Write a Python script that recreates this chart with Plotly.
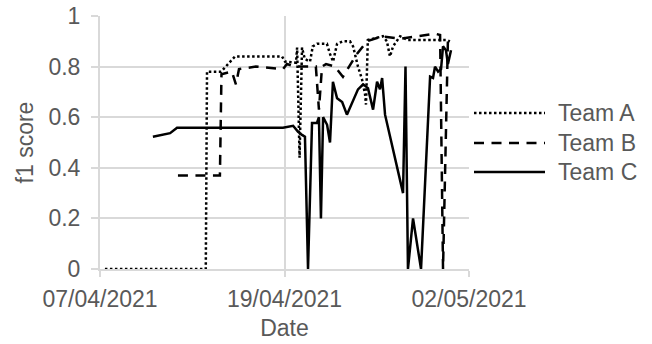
import plotly.graph_objects as go

# ---- data ----
dates_a = ["2021-04-07 08:00", "2021-04-14 04:00", "2021-04-14 06:00", "2021-04-15 05:00",
           "2021-04-16 03:30", "2021-04-19 08:00", "2021-04-19 12:45", "2021-04-20 06:45",
           "2021-04-20 08:30", "2021-04-20 12:30", "2021-04-20 16:30", "2021-04-20 21:00",
           "2021-04-21 05:30", "2021-04-21 10:00", "2021-04-21 17:00", "2021-04-22 02:30",
           "2021-04-22 09:00", "2021-04-22 14:00", "2021-04-22 19:00", "2021-04-23 01:30",
           "2021-04-23 11:00", "2021-04-23 22:30", "2021-04-24 03:30", "2021-04-24 11:30",
           "2021-04-24 18:00", "2021-04-24 23:00", "2021-04-25 00:30", "2021-04-25 03:30",
           "2021-04-26 04:00", "2021-04-26 10:30", "2021-04-26 15:30", "2021-04-26 20:30",
           "2021-04-27 08:00", "2021-04-27 21:00", "2021-04-30 12:00", "2021-04-30 17:00"]
team_a = [0.0, 0.0, 0.78, 0.78, 0.84, 0.84, 0.82, 0.815, 0.875, 0.44, 0.875, 0.83,
          0.82, 0.88, 0.89, 0.89, 0.89, 0.85, 0.82, 0.89, 0.90, 0.90, 0.88, 0.80,
          0.75, 0.69, 0.65, 0.905, 0.92, 0.90, 0.84, 0.88, 0.92, 0.905, 0.905, 0.90]

dates_b = ["2021-04-12 06:45", "2021-04-15 03:00", "2021-04-15 05:30", "2021-04-15 22:30",
           "2021-04-16 05:00", "2021-04-16 10:00", "2021-04-17 13:30", "2021-04-19 09:30",
           "2021-04-19 16:00", "2021-04-20 05:00", "2021-04-21 05:30", "2021-04-21 15:00",
           "2021-04-21 20:00", "2021-04-22 01:00", "2021-04-22 07:30", "2021-04-22 22:00",
           "2021-04-23 11:00", "2021-04-24 09:45", "2021-04-25 02:00", "2021-04-26 02:30",
           "2021-04-27 07:45", "2021-04-28 11:30", "2021-04-29 16:45", "2021-04-30 01:00",
           "2021-04-30 05:45", "2021-04-30 13:45", "2021-04-30 17:00"]
team_b = [0.37, 0.37, 0.77, 0.78, 0.73, 0.79, 0.80, 0.79, 0.81, 0.80, 0.80, 0.80,
          0.63, 0.80, 0.81, 0.80, 0.76, 0.85, 0.90, 0.92, 0.91, 0.92, 0.93, 0.925,
          0.0, 0.91, 0.90]

dates_c = ["2021-04-10 14:00", "2021-04-11 18:00", "2021-04-12 05:15", "2021-04-19 09:30",
           "2021-04-20 02:00", "2021-04-20 09:45", "2021-04-20 16:30", "2021-04-20 21:15",
           "2021-04-21 02:15", "2021-04-21 08:45", "2021-04-21 16:45", "2021-04-21 20:00",
           "2021-04-21 23:15", "2021-04-22 02:45", "2021-04-22 09:15", "2021-04-22 14:00",
           "2021-04-22 18:45", "2021-04-23 01:30", "2021-04-23 09:45", "2021-04-23 17:30",
           "2021-04-24 11:30", "2021-04-24 19:45", "2021-04-25 03:45", "2021-04-25 12:00",
           "2021-04-25 18:30", "2021-04-25 23:15", "2021-04-26 02:45", "2021-04-26 07:30",
           "2021-04-27 12:45", "2021-04-27 16:45", "2021-04-27 20:45", "2021-04-28 05:00",
           "2021-04-28 18:00", "2021-04-29 08:45", "2021-04-29 13:30", "2021-04-29 16:45",
           "2021-04-29 21:45", "2021-04-30 02:30", "2021-04-30 05:45", "2021-04-30 10:30",
           "2021-04-30 13:45", "2021-04-30 18:45"]
team_c = [0.523, 0.537, 0.558, 0.558, 0.566, 0.543, 0.53, 0.523, 0.0, 0.577, 0.577, 0.60,
          0.20, 0.60, 0.57, 0.50, 0.74, 0.675, 0.66, 0.61, 0.71, 0.73, 0.715, 0.63,
          0.74, 0.71, 0.755, 0.61, 0.30, 0.80, 0.0, 0.20, 0.0, 0.76, 0.755, 0.80,
          0.78, 0.79, 0.88, 0.865, 0.81, 0.865]

series_names = ["Team A", "Team B", "Team C"]
x_tickvals = ["2021-04-07", "2021-04-19 12:00", "2021-05-02"]
x_ticktext = ["07/04/2021", "19/04/2021", "02/05/2021"]
y_tickvals = [0, 0.2, 0.4, 0.6, 0.8, 1]
y_ticktext = ["0", "0.2", "0.4", "0.6", "0.8", "1"]

# ---- styling ----
FONT = "Liberation Sans, Arial, sans-serif"
TXT = "#595959"
GRID = "#d9d9d9"
dashes = ["2.5px,2.5px", "10px,7.5px", "solid"]
widths = [2.5, 2.5, 2.5]

fig = go.Figure()
for name, xs, ys, d, w in zip(series_names, [dates_a, dates_b, dates_c],
                              [team_a, team_b, team_c], dashes, widths):
    fig.add_trace(go.Scatter(x=xs, y=ys, mode="lines", name=name,
                             line=dict(color="black", width=w, dash=d),
                             showlegend=False, hoverinfo="skip"))

# plot area in pixels: x 100..469, y 16..269
L, R, T, B = 100, 469, 16, 269
W, H = R - L, B - T

def px(x):
    return (x - L) / W

def py(y):
    return (B - y) / H

legend_y = [113, 143, 172]
for name, d, w, ly in zip(series_names, dashes, widths, legend_y):
    fig.add_shape(type="line", xref="paper", yref="paper",
                  x0=px(474), x1=px(545), y0=py(ly), y1=py(ly),
                  line=dict(color="black", width=w, dash=d))
    fig.add_annotation(xref="paper", yref="paper", x=px(556), y=py(ly),
                       text=name, showarrow=False, xanchor="left", yanchor="middle",
                       font=dict(family=FONT, size=23, color=TXT))

fig.update_layout(
    template="none",
    width=652, height=344,
    margin=dict(l=L, r=652 - R, t=T, b=344 - B, pad=0, autoexpand=False),
    paper_bgcolor="white", plot_bgcolor="white",
    font=dict(family=FONT, size=23, color=TXT),
    showlegend=False,
)
fig.update_xaxes(
    type="date", range=["2021-04-07", "2021-05-02"], automargin=False,
    tickmode="array", tickvals=x_tickvals, ticktext=x_ticktext,
    showgrid=True, gridcolor=GRID, gridwidth=2,
    showline=True, linecolor=GRID, linewidth=2,
    ticks="outside", ticklen=6, tickcolor=GRID, tickwidth=2,
    ticklabelstandoff=2,
    title=dict(text="Date", standoff=9, font=dict(size=23, color=TXT)),
    zeroline=False,
)
fig.update_yaxes(
    range=[0, 1], automargin=False,
    tickmode="array", tickvals=y_tickvals, ticktext=y_ticktext,
    showgrid=True, gridcolor=GRID, gridwidth=2,
    showline=True, linecolor=GRID, linewidth=2,
    ticks="outside", ticklen=7, tickcolor=GRID, tickwidth=2,
    ticklabelstandoff=6,
    title=dict(text="f1 score", standoff=8, font=dict(size=23, color=TXT)),
    zeroline=False,
)

fig.write_html("out.html", config={"displayModeBar": False, "staticPlot": True},
               post_script="document.body.style.margin='0';document.body.style.overflow='hidden';")
